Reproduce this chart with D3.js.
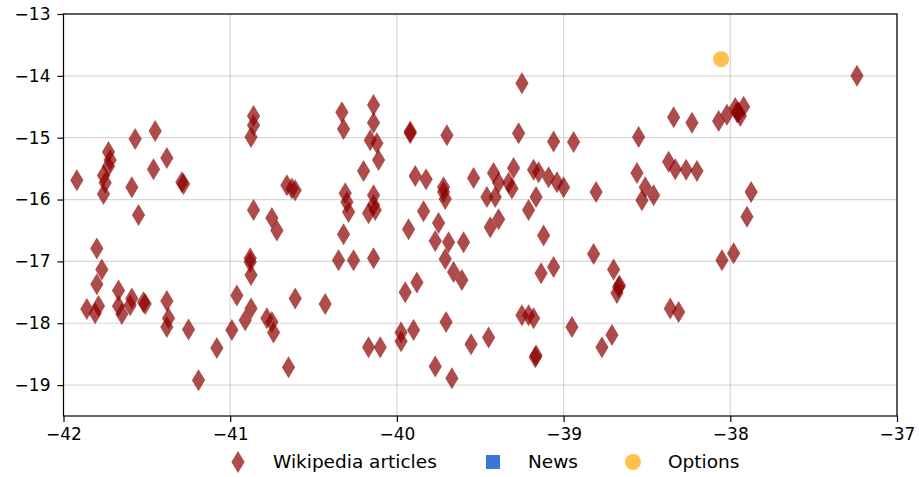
<!DOCTYPE html>
<html>
<head>
<meta charset="utf-8">
<script src="https://cdn.jsdelivr.net/npm/d3@7"></script>
<style>
  body { margin: 0; background: #fff; }
  text { font-family: "DejaVu Sans", sans-serif; }
</style>
</head>
<body>
<div id="chart"></div>
<script>
// wikipedia points [lon, lat]
var wikiX = [-41.92,-41.73,-41.73,-41.76,-41.75,-41.76,-41.72,-41.57,-41.45,-41.38,-41.46,-41.59,-41.55,-41.29,-41.28,
  -40.86,-40.86,-40.875,-40.86,-40.75,-40.72,-40.88,-40.66,-40.63,-40.61,
  -41.80,-41.77,-41.80,-41.86,-41.81,-41.79,-41.67,-41.67,-41.65,-41.59,-41.52,-41.51,-41.38,-41.37,-41.38,-41.25,
  -41.08,-41.19,-40.99,-40.96,-40.91,-40.875,-40.88,-40.875,-40.78,-40.75,-40.74,-40.65,-40.61,-40.43,-41.60,
  -40.33,-40.32,-40.14,-40.14,-40.16,-40.12,-40.11,-40.20,-40.31,-40.30,-40.29,-40.14,-40.14,-40.17,-40.13,-40.32,
  -40.35,-40.26,-40.14,-39.92,-39.92,-39.89,-39.93,-39.825,-39.72,-39.72,-39.71,-39.70,-39.25,-39.27,-39.06,-38.94,
  -39.54,-39.42,-39.39,-39.46,-39.41,-39.30,-39.33,-39.31,-39.18,-39.15,-39.09,-39.04,-39.00,-39.165,-39.21,-39.12,
  -39.84,-39.75,-39.77,-39.69,-39.60,-39.44,-39.39,-39.71,-39.66,-39.61,-39.88,-39.95,-39.135,-39.06,
  -39.25,-39.21,-39.18,-39.17,-39.165,-38.95,-39.975,-39.975,-39.90,-39.705,-39.555,-39.45,-39.77,-39.67,-40.17,-40.10,
  -38.34,-38.23,-38.07,-38.02,-37.97,-37.95,-37.92,-37.94,-37.96,-37.24,
  -38.55,-38.56,-38.37,-38.33,-38.265,-38.20,-38.51,-38.53,-38.46,-38.805,-37.875,-37.90,
  -38.82,-38.70,-38.67,-38.68,-38.665,-38.71,-38.77,-38.36,-38.31,-38.05,-37.98];
var wikiY = [-15.69,-15.23,-15.46,-15.61,-15.73,-15.91,-15.36,-15.02,-14.89,-15.33,-15.51,-15.80,-16.25,-15.72,-15.75,
  -14.65,-14.80,-14.99,-16.17,-16.30,-16.50,-16.95,-15.77,-15.82,-15.85,
  -16.79,-17.13,-17.37,-17.77,-17.84,-17.72,-17.47,-17.72,-17.85,-17.60,-17.66,-17.69,-17.64,-17.92,-18.06,-18.10,
  -18.40,-18.92,-18.11,-17.55,-17.95,-17.76,-17.01,-17.22,-17.92,-17.98,-18.15,-18.71,-17.60,-17.69,-17.71,
  -14.59,-14.86,-14.47,-14.76,-15.04,-15.09,-15.36,-15.54,-15.90,-16.04,-16.20,-15.93,-16.09,-16.22,-16.17,-16.56,
  -16.98,-16.98,-16.95,-14.93,-14.90,-15.62,-16.48,-15.67,-15.80,-15.88,-15.99,-14.96,-14.12,-14.93,-15.06,-15.07,
  -15.65,-15.57,-15.73,-15.96,-15.96,-15.49,-15.73,-15.82,-15.52,-15.56,-15.64,-15.72,-15.80,-15.96,-16.17,-16.58,
  -16.19,-16.38,-16.67,-16.69,-16.69,-16.45,-16.32,-16.96,-17.17,-17.30,-17.34,-17.50,-17.19,-17.09,
  -17.87,-17.87,-17.92,-18.55,-18.52,-18.06,-18.15,-18.29,-18.11,-17.98,-18.34,-18.23,-18.70,-18.89,-18.39,-18.39,
  -14.67,-14.76,-14.73,-14.63,-14.52,-14.59,-14.50,-14.65,-14.59,-14.00,
  -14.99,-15.57,-15.39,-15.51,-15.52,-15.54,-15.80,-16.01,-15.93,-15.88,-15.88,-16.28,
  -16.88,-17.13,-17.42,-17.51,-17.39,-18.19,-18.39,-17.76,-17.82,-16.98,-16.87];

var newsX = [], newsY = [];
var optionsX = [-38.055], optionsY = [-13.73];

var xTicks = [-42, -41, -40, -39, -38, -37];
var yTicks = [-19, -18, -17, -16, -15, -14, -13];
var legendNames = ["Wikipedia articles", "News", "Options"];

var width = 919, height = 477;
var m = {top: 14, right: 22, bottom: 61, left: 63.5};

var svg = d3.select("#chart").append("svg")
    .attr("width", width)
    .attr("height", height);

var x = d3.scaleLinear().domain([-42, -37]).range([m.left, width - m.right]);
var y = d3.scaleLinear().domain([-19.5, -13]).range([height - m.bottom, m.top]);

var fmt = d => String(d).replace("-", "\u2212");

// grid
svg.append("g").selectAll("line").data(xTicks).enter().append("line")
    .attr("x1", d => x(d)).attr("x2", d => x(d))
    .attr("y1", m.top).attr("y2", height - m.bottom)
    .attr("stroke", "#b0b0b0").attr("stroke-opacity", 0.5).attr("stroke-width", 1.2);
svg.append("g").selectAll("line").data(yTicks).enter().append("line")
    .attr("x1", m.left).attr("x2", width - m.right)
    .attr("y1", d => y(d)).attr("y2", d => y(d))
    .attr("stroke", "#b0b0b0").attr("stroke-opacity", 0.5).attr("stroke-width", 1.2);

var diamond = "M0,-11L6.6,0L0,11L-6.6,0Z";

svg.append("g").selectAll("path")
    .data(d3.range(wikiX.length))
    .enter().append("path")
    .attr("d", diamond)
    .attr("transform", i => `translate(${x(wikiX[i])},${y(wikiY[i])})`)
    .attr("fill", "#8b0000")
    .attr("fill-opacity", 0.7);

svg.append("g").selectAll("rect")
    .data(d3.range(newsX.length))
    .enter().append("rect")
    .attr("x", i => x(newsX[i]) - 7).attr("y", i => y(newsY[i]) - 7)
    .attr("width", 14).attr("height", 14)
    .attr("fill", "#3a78d8");

svg.append("g").selectAll("circle")
    .data(d3.range(optionsX.length))
    .enter().append("circle")
    .attr("cx", i => x(optionsX[i]))
    .attr("cy", i => y(optionsY[i]))
    .attr("r", 8)
    .attr("fill", "#ffa500")
    .attr("fill-opacity", 0.7);

// axes
var xAxis = d3.axisBottom(x).tickValues(xTicks).tickFormat(fmt).tickSize(6).tickPadding(6);
var yAxis = d3.axisLeft(y).tickValues(yTicks).tickFormat(fmt).tickSize(6).tickPadding(7);

var gx = svg.append("g").attr("transform", `translate(0,${height - m.bottom})`).call(xAxis);
var gy = svg.append("g").attr("transform", `translate(${m.left},0)`).call(yAxis);
[gx, gy].forEach(g => {
    g.select(".domain").remove();
    g.selectAll("text").attr("font-size", 17).attr("fill", "#000")
        .style("font-family", "DejaVu Sans");
    g.selectAll("line").attr("stroke", "#000").attr("stroke-width", 1.2);
});

// frame
svg.append("rect")
    .attr("x", m.left).attr("y", m.top)
    .attr("width", width - m.right - m.left)
    .attr("height", height - m.bottom - m.top)
    .attr("fill", "none").attr("stroke", "#000").attr("stroke-width", 1.2);

// legend
var legend = svg.append("g").attr("transform", "translate(0,462)");
var lx = [238, 493, 633];
legend.append("path").attr("d", diamond)
    .attr("transform", `translate(${lx[0]},0)`)
    .attr("fill", "#8b0000").attr("fill-opacity", 0.7);
legend.append("rect").attr("x", lx[1] - 7).attr("y", -7).attr("width", 14).attr("height", 14)
    .attr("fill", "#3a78d8");
legend.append("circle").attr("cx", lx[2]).attr("cy", 0).attr("r", 8)
    .attr("fill", "#ffa500").attr("fill-opacity", 0.7);
legend.selectAll("text").data(legendNames).enter().append("text")
    .attr("x", (d, i) => lx[i] + 35)
    .attr("y", 0)
    .attr("dy", "0.35em")
    .attr("font-size", 18.5)
    .text(d => d);
</script>
</body>
</html>
